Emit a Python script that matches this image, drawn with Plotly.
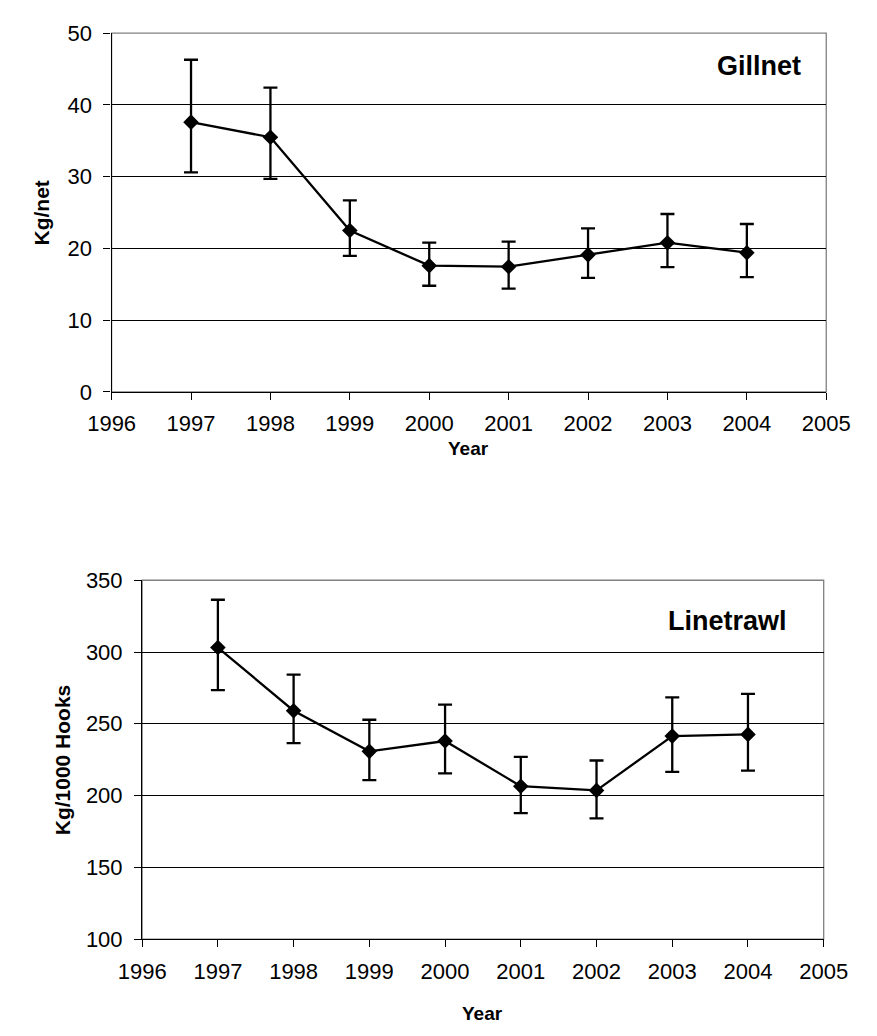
import plotly.graph_objects as go

years = [1997, 1998, 1999, 2000, 2001, 2002, 2003, 2004]

gill_mean = [37.6, 35.5, 22.5, 17.6, 17.45, 19.1, 20.8, 19.4]
gill_upper = [46.3, 42.4, 26.7, 20.8, 20.95, 22.8, 24.8, 23.4]
gill_lower = [30.6, 29.7, 18.95, 14.8, 14.4, 15.9, 17.4, 16.0]

line_mean = [303.1, 259.1, 230.8, 238.0, 206.5, 203.6, 241.4, 242.6]
line_upper = [336.4, 284.3, 252.8, 263.4, 226.9, 224.4, 268.4, 270.9]
line_lower = [273.4, 236.5, 210.8, 215.4, 187.7, 184.1, 216.5, 217.4]

x_ticks = list(range(1996, 2006))
gill_yticks = [0, 10, 20, 30, 40, 50]
line_yticks = [100, 150, 200, 250, 300, 350]

W, H = 877, 1036
FONT = "Liberation Sans, Arial, sans-serif"

def px_x(v):
    return v / W

def px_y(v):
    return 1 - v / H

fig = go.Figure()

def add_series(mean, up, lo, xa, ya):
    plus = [u - m for u, m in zip(up, mean)]
    minus = [m - l for m, l in zip(mean, lo)]
    fig.add_trace(go.Scatter(
        x=years, y=mean, xaxis=xa, yaxis=ya,
        mode="lines+markers",
        line=dict(color="black", width=2.3),
        marker=dict(symbol="diamond", size=12, color="black"),
        error_y=dict(type="data", symmetric=False, array=plus, arrayminus=minus,
                     color="black", thickness=2.3, width=7),
        showlegend=False,
    ))

add_series(gill_mean, gill_upper, gill_lower, "x", "y")
add_series(line_mean, line_upper, line_lower, "x2", "y2")

common_x = dict(range=[1996, 2005], tickvals=x_ticks, ticks="outside", ticklen=7,
                tickcolor="black", tickwidth=1, showline=True, linecolor="black",
                linewidth=1.3, showgrid=False, zeroline=False,
                tickfont=dict(family=FONT, size=22, color="black"),
                ticklabelstandoff=5)
common_y = dict(ticks="outside", ticklen=7, tickcolor="black", tickwidth=1,
                showline=True, linecolor="black", linewidth=1.3,
                showgrid=True, gridcolor="black", gridwidth=1, zeroline=False,
                tickfont=dict(family=FONT, size=22, color="black"),
                ticklabelstandoff=7)

fig.update_layout(
    width=W, height=H, autosize=False,
    margin=dict(l=0, r=0, t=0, b=0),
    paper_bgcolor="white", plot_bgcolor="white",
    font=dict(family=FONT, color="black"),
    xaxis=dict(domain=[px_x(92.7), px_x(848.7)], anchor="y", **common_x),
    yaxis=dict(domain=[px_y(389.3), px_y(21.7)], anchor="x", range=[0, 50],
               tickvals=gill_yticks, **common_y),
    xaxis2=dict(domain=[px_x(125), px_x(846)], anchor="y2", **common_x),
    yaxis2=dict(domain=[px_y(950), px_y(582.3)], anchor="x2", range=[100, 350],
                tickvals=line_yticks, **common_y),
)

# grey plot-area borders
for xr, yr in [("x domain", "y domain"), ("x2 domain", "y2 domain")]:
    fig.add_shape(type="rect", xref=xr, yref=yr, x0=0, x1=1, y0=0, y1=1,
                  line=dict(color="#808080", width=1.3), layer="below")

ann = [
    dict(text="<b>Gillnet</b>", x=px_x(777.7), y=px_y(55), size=27),
    dict(text="<b>Linetrawl</b>", x=px_x(744.7), y=px_y(624), size=27),
    dict(text="<b>Year</b>", x=px_x(470.7), y=px_y(447), size=19),
    dict(text="<b>Year</b>", x=px_x(485.5), y=px_y(1026), size=19),
]
for a in ann:
    fig.add_annotation(text=a["text"], x=a["x"], y=a["y"], xref="paper", yref="paper",
                       xanchor="center", yanchor="middle", showarrow=False,
                       font=dict(family=FONT, size=a["size"], color="black"))

for text, xc, yc in [("<b>Kg/net</b>", 19, 205.5), ("<b>Kg/1000 Hooks</b>", 41, 766)]:
    fig.add_annotation(text=text, x=px_x(xc), y=px_y(yc), xref="paper", yref="paper",
                       xanchor="center", yanchor="middle", showarrow=False, textangle=-90,
                       font=dict(family=FONT, size=21, color="black"))

fig.write_html("out.html")
